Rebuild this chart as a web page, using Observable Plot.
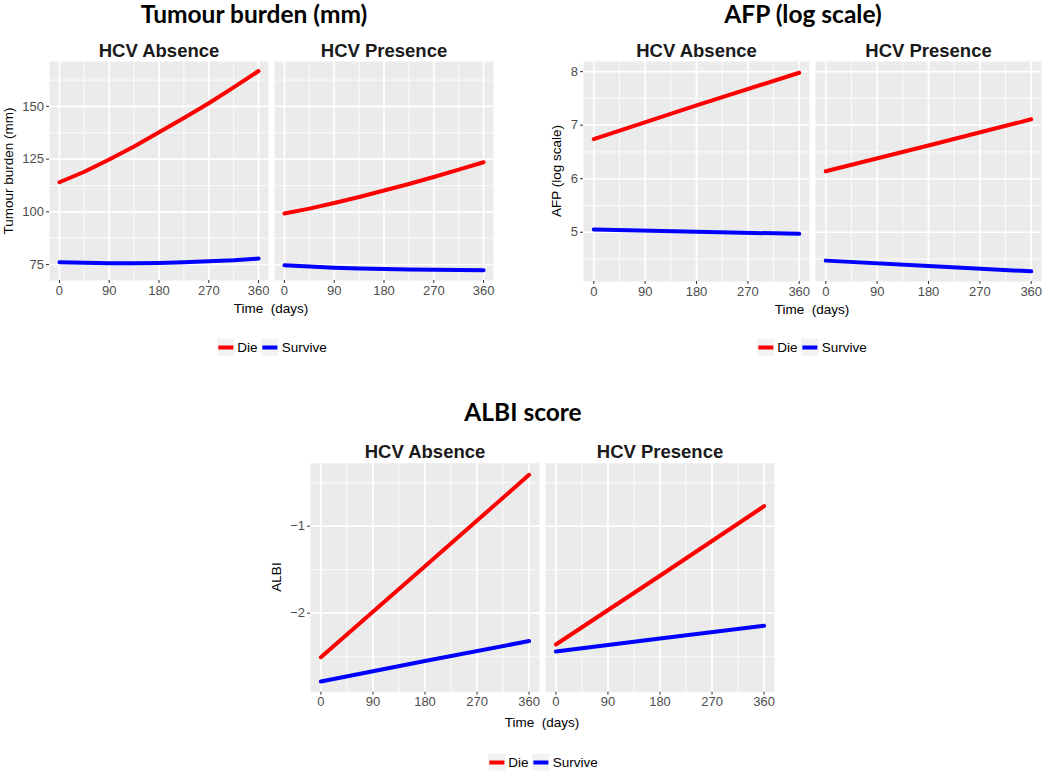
<!DOCTYPE html>
<html>
<head>
<meta charset="utf-8">
<script src="https://cdn.jsdelivr.net/npm/d3@7"></script>
<script src="https://cdn.jsdelivr.net/npm/@observablehq/plot@0.6"></script>
<style>
  body { margin: 0; background: #ffffff; }
  #page { position: relative; width: 1050px; height: 771px; overflow: hidden; font-family: "Liberation Sans", Arial, sans-serif; }
  .abs { position: absolute; white-space: pre; }
  .center { transform: translate(-50%, -50%); }
  .title { font-family: Lato, "Open Sans", sans-serif; font-weight: 700; font-size: 24.5px; color: #000; }
  .axtitle { font-size: 13.5px; color: #000; }
  .ylab { transform: translate(-50%, -50%) rotate(-90deg); }
  .legend { display: flex; align-items: center; font-size: 13.5px; color: #000; }
  .key { width: 17px; height: 17px; background: #F2F2F2; display: flex; align-items: center; justify-content: center; margin-right: 3px; }
  .key span { display: block; width: 15px; height: 4px; }
  .lab { margin-right: 4px; }
  .chart { position: absolute; }
</style>
</head>
<body>
<div id="page"></div>
<script>
// ---------- data ----------
const hcvGroups = ["HCV Absence", "HCV Presence"];
const statuses = ["Die", "Survive"];
const statusColors = ["#FF0000", "#0000FF"];
const xTicks = [0, 90, 180, 270, 360];
const xMinorTicks = [45, 135, 225, 315];

// Tumour burden (mm) — curved lines, read at 45-day steps
const tumourDays = [0, 45, 90, 135, 180, 225, 270, 315, 360];
const tumourAbsenceDie = [114.0, 119.0, 124.8, 131.0, 137.7, 144.5, 151.5, 159.0, 166.8];
const tumourAbsenceSurvive = [76.1, 75.8, 75.6, 75.6, 75.7, 76.0, 76.5, 77.0, 77.8];
const tumourPresenceDie = [99.2, 101.5, 104.2, 107.0, 110.1, 113.2, 116.5, 120.0, 123.5];
const tumourPresenceSurvive = [74.6, 74.0, 73.5, 73.1, 72.8, 72.6, 72.5, 72.4, 72.3];
const tumourYTicks = [75, 100, 125, 150];
const tumourYMinor = [87.5, 112.5, 137.5, 162.5];

// AFP (log scale) — straight lines
const afpDays = [0, 180, 360];
const afpAbsenceDie = [6.74, 7.37, 7.98];
const afpAbsenceSurvive = [5.05, 5.01, 4.97];
const afpPresenceDie = [6.14, 6.62, 7.11];
const afpPresenceSurvive = [4.47, 4.37, 4.27];
const afpYTicks = [5, 6, 7, 8];
const afpYMinor = [4.5, 5.5, 6.5, 7.5];

// ALBI score — straight lines
const albiDays = [0, 180, 360];
const albiAbsenceDie = [-2.505, -1.46, -0.41];
const albiAbsenceSurvive = [-2.785, -2.55, -2.32];
const albiPresenceDie = [-2.36, -1.57, -0.77];
const albiPresenceSurvive = [-2.44, -2.29, -2.145];
const albiYTicks = [-2, -1];
const albiYMinor = [-2.5, -1.5, -0.5];

// ---------- helpers ----------
function buildRows(days, absDie, absSurv, presDie, presSurv) {
  const rows = [];
  const sets = [[hcvGroups[0], statuses[0], absDie], [hcvGroups[0], statuses[1], absSurv],
                [hcvGroups[1], statuses[0], presDie], [hcvGroups[1], statuses[1], presSurv]];
  for (const [hcv, status, vals] of sets) vals.forEach((v, i) => rows.push({hcv, status, t: days[i], v}));
  return rows;
}

const page = document.getElementById("page");
function addText(txt, cls, x, y) {
  const d = document.createElement("div");
  d.className = "abs " + cls;
  d.style.left = x + "px"; d.style.top = y + "px";
  d.textContent = txt;
  page.appendChild(d);
  return d;
}
function addLegend(cx, cy) {
  const d = document.createElement("div");
  d.className = "abs legend center";
  d.style.left = cx + "px"; d.style.top = cy + "px";
  statuses.forEach((s, i) => {
    const k = document.createElement("div"); k.className = "key";
    const b = document.createElement("span"); b.style.background = statusColors[i];
    k.appendChild(b); d.appendChild(k);
    const l = document.createElement("div"); l.className = "lab"; l.textContent = s; d.appendChild(l);
  });
  page.appendChild(d);
}

function makeChart(o) {
  const chart = Plot.plot({
    width: o.width, height: o.height,
    marginLeft: o.ml, marginRight: o.mr, marginTop: o.mt, marginBottom: o.mb,
    style: {fontFamily: '"Liberation Sans", Arial, sans-serif', fontSize: "13px", background: "transparent", overflow: "visible"},
    fx: {domain: hcvGroups, padding: o.pad},
    x: {domain: [-18, 378]},
    y: {domain: o.yDomain},
    color: {domain: statuses, range: statusColors},
    marks: [
      Plot.frame({fill: "#EBEBEB"}),
      Plot.gridX(xMinorTicks, {stroke: "#ffffff", strokeOpacity: 1, strokeWidth: 0.8}),
      Plot.gridY(o.yMinor, {stroke: "#ffffff", strokeOpacity: 1, strokeWidth: 0.8}),
      Plot.gridX(xTicks, {stroke: "#ffffff", strokeOpacity: 1, strokeWidth: 1.7}),
      Plot.gridY(o.yTicks, {stroke: "#ffffff", strokeOpacity: 1, strokeWidth: 1.7}),
      Plot.axisX(xTicks, {tickSize: 3, tickPadding: 2, stroke: "#333333", fill: "#4D4D4D", fontSize: 13, label: null}),
      Plot.axisY(o.yTicks, {tickSize: 3, tickPadding: 2.5, stroke: "#333333", fill: "#4D4D4D", fontSize: 13, label: null, tickFormat: o.fmt}),
      Plot.axisFx({anchor: "top", tickSize: 0, tickPadding: 5, fontSize: 18.5, fontWeight: "bold", fill: "#1A1A1A", label: null}),
      Plot.line(o.rows, {fx: "hcv", x: "t", y: "v", z: "status", stroke: "status", strokeWidth: 4, curve: "linear"})
    ]
  });
  const wrap = document.createElement("div");
  wrap.className = "chart";
  wrap.style.left = o.left + "px"; wrap.style.top = o.top + "px";
  wrap.appendChild(chart);
  page.appendChild(wrap);
}

// ---------- Tumour burden ----------
addText("Tumour burden (mm)", "title center", 254, 13);
makeChart({
  left: 0, top: 30, width: 500, height: 300, ml: 49, mr: 7, mt: 31, mb: 50, pad: 0.0267,
  yDomain: [67.4, 171.3], yTicks: tumourYTicks, yMinor: tumourYMinor, fmt: d3.format("d"),
  rows: buildRows(tumourDays, tumourAbsenceDie, tumourAbsenceSurvive, tumourPresenceDie, tumourPresenceSurvive)
});
addText("Time  (days)", "axtitle center", 271, 308);
addText("Tumour burden (mm)", "axtitle ylab", 8, 171);
addLegend(274, 347);

// ---------- AFP ----------
addText("AFP (log scale)", "title center", 803, 13);
makeChart({
  left: 520, top: 30, width: 530, height: 300, ml: 61.7, mr: 8.3, mt: 31, mb: 49, pad: 0.02575,
  yDomain: [4.08, 8.19], yTicks: afpYTicks, yMinor: afpYMinor, fmt: d3.format("d"),
  rows: buildRows(afpDays, afpAbsenceDie, afpAbsenceSurvive, afpPresenceDie, afpPresenceSurvive)
});
addText("Time  (days)", "axtitle center", 812, 309);
addText("AFP (log scale)", "axtitle ylab", 556, 171);
addLegend(814, 347);

// ---------- ALBI ----------
addText("ALBI score", "title center", 523, 411);
makeChart({
  left: 260, top: 430, width: 530, height: 310, ml: 49, mr: 15, mt: 32.7, mb: 48.3, pad: 0.0254,
  yDomain: [-2.908, -0.276], yTicks: albiYTicks, yMinor: albiYMinor, fmt: d3.format("d"),
  rows: buildRows(albiDays, albiAbsenceDie, albiAbsenceSurvive, albiPresenceDie, albiPresenceSurvive)
});
addText("Time  (days)", "axtitle center", 542, 722);
addText("ALBI", "axtitle ylab", 276, 577);
addLegend(545, 762);
</script>
</body>
</html>
